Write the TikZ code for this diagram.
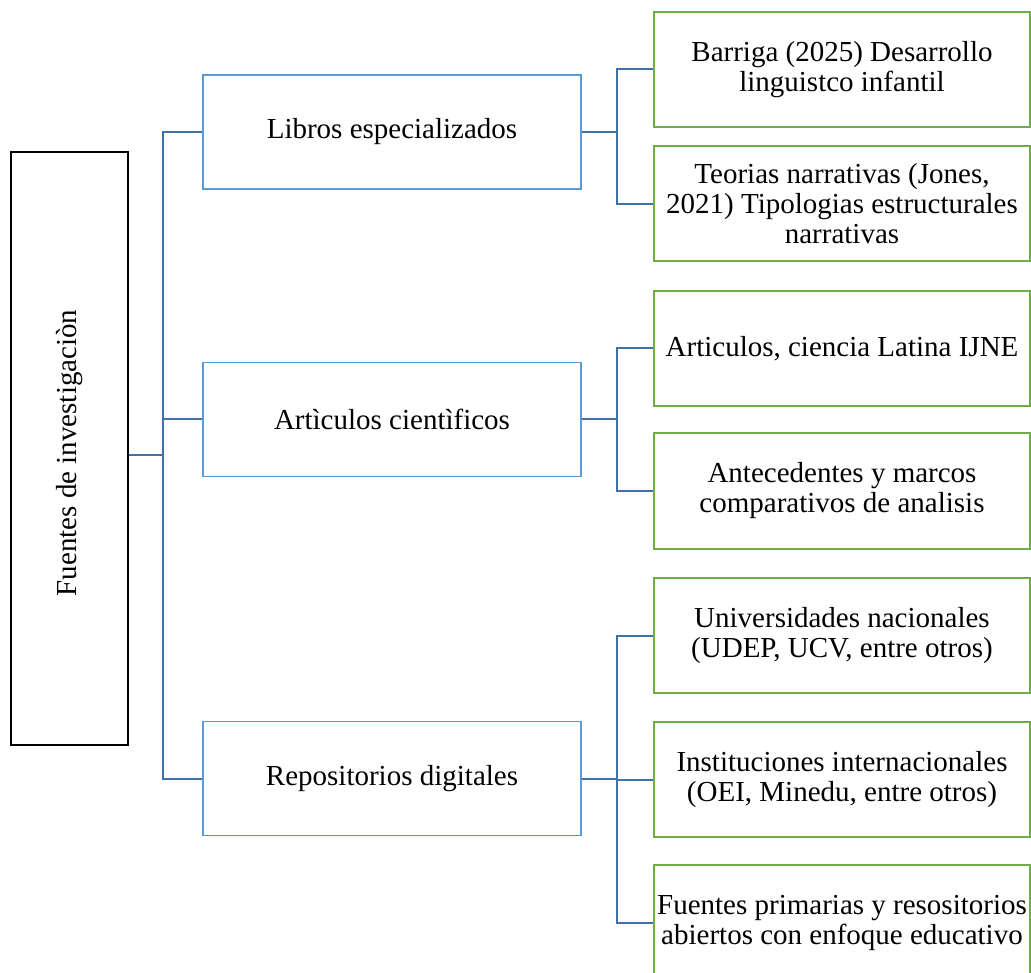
\documentclass[tikz,border=0pt]{standalone}
\usepackage{fontspec}
\setmainfont{Liberation Serif}
\definecolor{boxblue}{RGB}{91,155,213}
\definecolor{linkblue}{RGB}{65,113,165}
\definecolor{boxgreen}{RGB}{112,173,71}
\begin{document}
\begin{tikzpicture}[x=1pt,y=-1pt,
  every node/.style={font=\fontsize{29}{30}\selectfont, align=center, inner sep=0pt},
  rootbox/.style={draw=black, line width=2pt, minimum width=117pt, minimum height=593pt},
  midbox/.style={draw=boxblue, line width=1.6pt, minimum width=378pt, minimum height=114pt},
  leafbox/.style={draw=boxgreen, line width=2pt, minimum width=376pt, minimum height=115pt},
  link/.style={draw=linkblue, line width=2pt}]
\useasboundingbox (0,0) rectangle (1031,973);
\node[rootbox] (root) at (69.5,448.5) {};
\node[rotate=90] (roottext) at (69.5,453) {Fuentes de investigaciòn};
\node[midbox] (lib) at (392,132) {Libros especializados};
\node[midbox] (art) at (392,419.5) {Artìculos cientìficos};
\node[midbox] (rep) at (392,778.5) {Repositorios digitales};
\node[leafbox] (b1) at (842,69.5) {Barriga (2025) Desarrollo\\linguistco infantil};
\node[leafbox] (b2) at (842,204) {Teorias narrativas (Jones,\\2021) Tipologias estructurales\\narrativas};
\node[leafbox] (b3) at (842,348.5) {Articulos, ciencia Latina IJNE};
\node[leafbox] (b4) at (842,491) {Antecedentes y marcos\\comparativos de analisis};
\node[leafbox] (b5) at (842,635.5) {Universidades nacionales\\(UDEP, UCV, entre otros)};
\node[leafbox] (b6) at (842,779.5) {Instituciones internacionales\\(OEI, Minedu, entre otros)};
\node[leafbox] (b7) at (842,922.5) {Fuentes primarias y resositorios\\abiertos con enfoque educativo};
\coordinate (t0) at (163,455);
\coordinate (t1) at (617,0);
% root trunk
\draw[link] ([yshift=-6.5pt]root.east) -- (t0);
\draw[link] (t0) |- (lib.west);
\draw[link] (t0) |- (art.west);
\draw[link] (t0) |- (rep.west);
% libros group
\draw[link] (lib.east) -- (lib.east -| t1);
\draw[link] (lib.east -| t1) |- (b1.west);
\draw[link] (lib.east -| t1) |- (b2.west);
% articulos group
\draw[link] (art.east) -- (art.east -| t1);
\draw[link] (art.east -| t1) |- (b3.west);
\draw[link] (art.east -| t1) |- (b4.west);
% repositorios group
\draw[link] (rep.east) -- (rep.east -| t1);
\draw[link] (rep.east -| t1) |- (b5.west);
\draw[link] (rep.east -| t1) |- (b6.west);
\draw[link] (rep.east -| t1) |- (b7.west);
\end{tikzpicture}
\end{document}
